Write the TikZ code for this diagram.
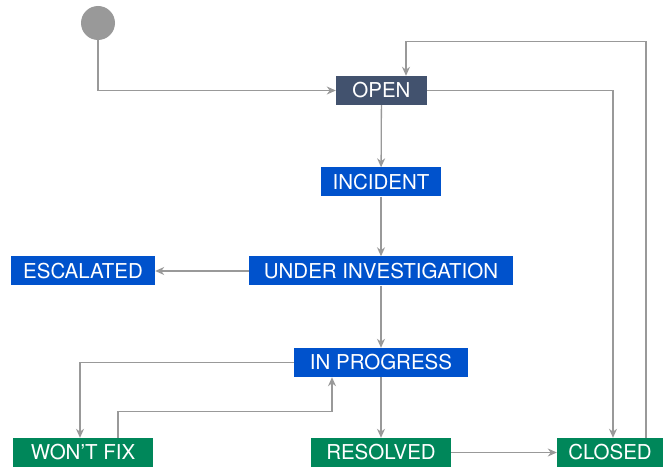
\documentclass[tikz,border=0pt]{standalone}
\usepackage{fontspec}
\setmainfont{TeX Gyre Heros}
\usetikzlibrary{arrows.meta}
\definecolor{opencol}{HTML}{42526E}
\definecolor{bluecol}{HTML}{0052CC}
\definecolor{greencol}{HTML}{00875A}
\definecolor{linecol}{HTML}{999999}
\tikzstyle{status} = [rectangle, minimum height=29pt, inner sep=0pt, text=white, font=\fontsize{20.5}{23}\selectfont]
\tikzstyle{arrow} = [line width=1.3pt, draw=linecol, -{Stealth[length=9pt, width=8pt]}]

\begin{document}
\begin{tikzpicture}[x=1pt, y=-1pt]
    \useasboundingbox (0,0) rectangle (665,468);

    \node (start) [circle, fill=linecol, minimum size=34pt, inner sep=0pt] at (98,23) {};
    \node (open) [status, fill=opencol, minimum width=91pt] at (381.5,90.5) {OPEN};
    \node (incident) [status, fill=bluecol, minimum width=120pt] at (381,182) {INCIDENT};
    \node (investigation) [status, fill=bluecol, minimum width=264pt] at (381,271) {UNDER INVESTIGATION};
    \node (escalated) [status, fill=bluecol, minimum width=144pt] at (83,271) {ESCALATED};
    \node (progress) [status, fill=bluecol, minimum width=174pt] at (381,362.5) {IN PROGRESS};
    \node (wontfix) [status, fill=greencol, minimum width=140pt] at (83,452.5) {WON’T FIX};
    \node (resolved) [status, fill=greencol, minimum width=140pt] at (381,452.5) {RESOLVED};
    \node (closed) [status, fill=greencol, minimum width=106pt] at (610,452.5) {CLOSED};

    \draw [arrow] (start) |- (open);
    \draw [arrow] (open) -- (incident);
    \draw [arrow] (incident) -- (investigation);
    \draw [arrow] (investigation) -- (escalated);
    \draw [arrow] (investigation) -- (progress);
    \draw [arrow] (progress) -- (resolved);
    \draw [arrow] (resolved) -- (closed);

    \draw [arrow] (open) -| ([xshift=3pt]closed.north);
    \draw [arrow] ([xshift=36pt]closed.north) -- ++(0,-396) -| ([xshift=24.5pt]open.north);

    \draw [arrow] (progress) -| ([xshift=-3pt]wontfix.north);
    \draw [arrow] ([xshift=35pt]wontfix.north) -- ++(0,-26) -| ([xshift=-49pt]progress.south);

\end{tikzpicture}
\end{document}
